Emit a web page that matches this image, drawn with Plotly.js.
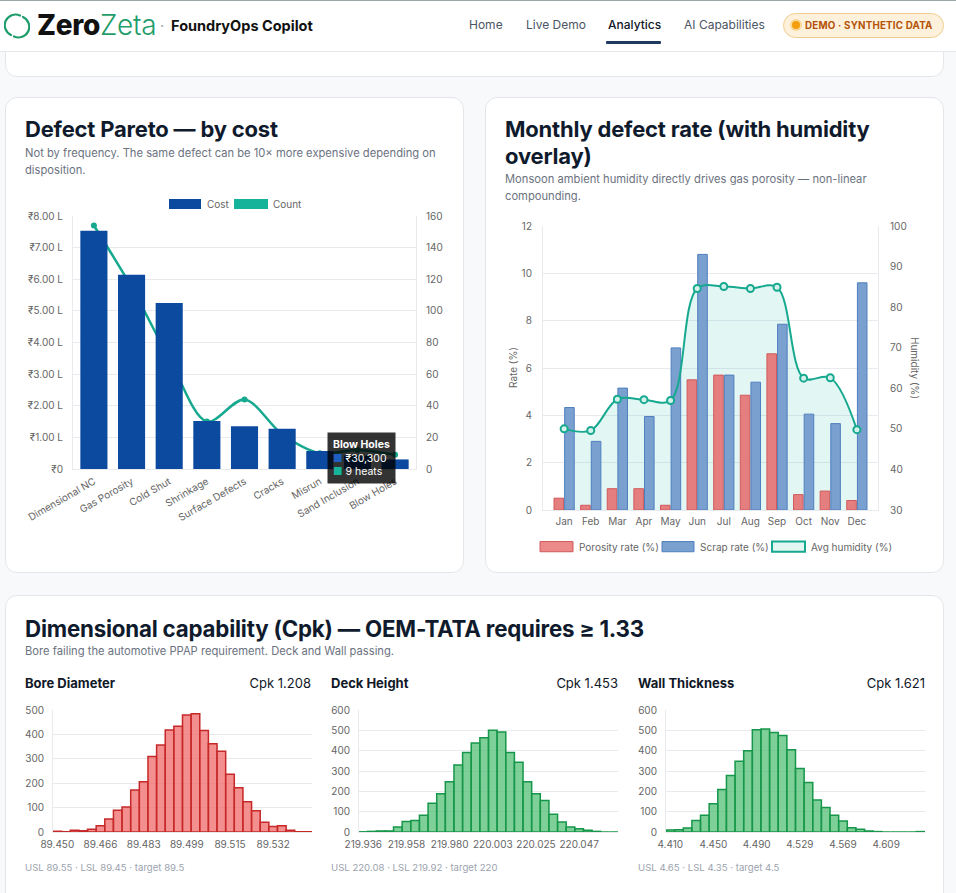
<!DOCTYPE html>
<html><head><meta charset="utf-8">
<script src="https://cdn.plot.ly/plotly-3.0.1.min.js"></script>
<style>
*{box-sizing:border-box;margin:0;padding:0}
body{width:956px;height:893px;overflow:hidden;background:#f8f9fa;font-family:Inter,"Noto Sans",sans-serif;position:relative;color:#0f172a}
.a{position:absolute;white-space:nowrap}
.card{position:absolute;background:#fff;border:1px solid #e3e6ea;border-radius:12px}
.h2{font-size:22px;font-weight:700;line-height:27px;color:#0f1b2d;letter-spacing:-0.2px}
.sub{font-size:11.2px;line-height:17px;color:#6b7280}
.nav{font-size:12px;color:#4b5563;top:17px;line-height:16px}
.colh{font-size:13px;line-height:16px;color:#111827;top:675px}
.foot{font-size:9.6px;line-height:12px;color:#9ca3af;top:862px}
</style></head>
<body>
<!-- scrolled card fragment -->
<div class="card" style="left:5px;top:-40px;width:939px;height:117px"></div>
<!-- header -->
<div class="a" style="left:0;top:0;width:956px;height:52px;background:#fff;border-top:1px solid #9aa6a8;border-bottom:1px solid #e6e8eb"></div>
<svg class="a" style="left:4px;top:12px" width="26" height="28" viewBox="0 0 26 28">
 <path d="M16 3.5 A10.5 10.5 0 0 0 7 23" stroke="#1f9d6b" stroke-width="2.2" fill="none" stroke-linecap="round"/>
 <path d="M10 24.5 A10.5 10.5 0 0 0 19 5" stroke="#1f9d6b" stroke-width="2.2" fill="none" stroke-linecap="round"/>
</svg>
<div class="a" style="left:37px;top:10px;font-size:28px;line-height:30px;letter-spacing:-0.3px"><span style="font-weight:800;color:#111">Zero</span><span style="font-weight:300;color:#1f9d6b">Zeta</span></div>
<div class="a" style="left:160px;top:17px;font-size:14.5px;line-height:17px;font-weight:700;color:#111"><span style="color:#9ca3af;font-weight:400">·</span>&nbsp; FoundryOps Copilot</div>
<div class="a nav" style="left:469px">Home</div>
<div class="a nav" style="left:526px">Live Demo</div>
<div class="a nav" style="left:608px;color:#111827;font-weight:500">Analytics</div>
<div class="a" style="left:606px;top:41px;width:55px;height:3px;background:#1e3a5f;border-radius:1px"></div>
<div class="a nav" style="left:684px">AI Capabilities</div>
<div class="a" style="left:783px;top:13px;width:161px;height:25px;border-radius:13px;background:#fdf1dc;border:1px solid #f1cd8e"></div>
<div class="a" style="left:792px;top:21px;width:8px;height:8px;border-radius:4px;background:#f59e0b;box-shadow:0 0 0 2px #fbd99a"></div>
<div class="a" style="left:805px;top:19.5px;font-size:9.8px;line-height:12px;font-weight:700;color:#b45309;letter-spacing:0.2px">DEMO · SYNTHETIC DATA</div>

<!-- cards -->
<div class="card" style="left:5px;top:97px;width:459px;height:476px"></div>
<div class="card" style="left:485px;top:97px;width:459px;height:476px"></div>
<div class="card" style="left:5px;top:595px;width:939px;height:330px"></div>

<div class="a h2" style="left:25px;top:115.5px">Defect Pareto — by cost</div>
<div class="a sub" style="left:25px;top:144.5px">Not by frequency. The same defect can be 10× more expensive depending on<br>disposition.</div>
<div class="a h2" style="left:505px;top:115.5px">Monthly defect rate (with humidity<br>overlay)</div>
<div class="a sub" style="left:505px;top:170.5px">Monsoon ambient humidity directly drives gas porosity — non-linear<br>compounding.</div>

<div class="a h2" style="left:25px;top:614.5px;font-size:22.3px">Dimensional capability (Cpk) — OEM-TATA requires ≥ 1.33</div>
<div class="a sub" style="left:25px;top:642.5px">Bore failing the automotive PPAP requirement. Deck and Wall passing.</div>

<div class="a colh" style="left:25px;font-weight:700">Bore Diameter</div>
<div class="a colh" style="left:211px;width:100px;text-align:right">Cpk 1.208</div>
<div class="a colh" style="left:331px;font-weight:700">Deck Height</div>
<div class="a colh" style="left:518px;width:100px;text-align:right">Cpk 1.453</div>
<div class="a colh" style="left:638px;font-weight:700">Wall Thickness</div>
<div class="a colh" style="left:825px;width:100px;text-align:right">Cpk 1.621</div>
<div class="a foot" style="left:25px">USL 89.55 · LSL 89.45 · target 89.5</div>
<div class="a foot" style="left:331px">USL 220.08 · LSL 219.92 · target 220</div>
<div class="a foot" style="left:638px">USL 4.65 · LSL 4.35 · target 4.5</div>

<div id="pareto" class="a" style="left:10px;top:190px;width:450px;height:355px"></div>
<div id="monthly" class="a" style="left:490px;top:210px;width:450px;height:350px"></div>
<div id="h1" class="a" style="left:13px;top:700px;width:304px;height:160px"></div>
<div id="h2" class="a" style="left:319px;top:700px;width:305px;height:160px"></div>
<div id="h3" class="a" style="left:626px;top:700px;width:304px;height:160px"></div>

<script>
// ---------- Pareto data ----------
const defectCategories = ['Dimensional NC','Gas Porosity','Cold Shut','Shrinkage','Surface Defects','Cracks','Misrun','Sand Inclusion','Blow Holes'];
const defectCostINR = [753000, 614000, 525000, 152000, 135000, 127000, 57000, 42000, 30300];
const defectCountHeats = [154, 115, 70, 30, 44, 22, 10, 12, 9];
const costTickVals = [0,100000,200000,300000,400000,500000,600000,700000,800000];
const costTickText = ['₹0','₹1.00 L','₹2.00 L','₹3.00 L','₹4.00 L','₹5.00 L','₹6.00 L','₹7.00 L','₹8.00 L'];

// ---------- Monthly data ----------
const months = ['Jan','Feb','Mar','Apr','May','Jun','Jul','Aug','Sep','Oct','Nov','Dec'];
const porosityRate = [0.5, 0.2, 0.9, 0.9, 0.2, 5.5, 5.7, 4.85, 6.6, 0.65, 0.8, 0.4];
const scrapRate = [4.33, 2.9, 5.15, 3.95, 6.85, 10.8, 5.7, 5.4, 7.85, 4.05, 3.65, 9.6];
const avgHumidity = [50, 49.6, 57.3, 57.2, 57, 84.6, 85.1, 84.6, 84.9, 62.5, 62.6, 49.8];

// ---------- Histogram data ----------
const boreBins = ['89.450','89.453','89.457','89.460','89.463','89.466','89.470','89.473','89.476','89.480','89.483','89.486','89.489','89.493','89.496','89.499','89.502','89.506','89.509','89.512','89.515','89.519','89.522','89.525','89.529','89.532','89.535','89.538','89.542','89.545'];
const boreCounts = [3,1,7,5,11,26,53,89,102,172,206,309,357,418,433,480,485,416,362,331,237,181,124,87,40,23,26,7,1,1];
const boreTicks = ['89.450','89.466','89.483','89.499','89.515','89.532'];

const deckBins = ['219.936','219.940','219.945','219.949','219.954','219.958','219.962','219.967','219.971','219.976','219.980','219.985','219.989','219.994','219.998','220.003','220.007','220.011','220.016','220.020','220.025','220.029','220.034','220.038','220.042','220.047','220.051','220.056','220.060','220.064'];
const deckCounts = [1,3,5,5,25,52,56,82,142,188,247,330,391,438,463,500,492,391,343,247,188,155,87,49,25,16,8,3,0,0];
const deckTicks = ['219.936','219.958','219.980','220.003','220.025','220.047'];

const wallBins = ['4.410','4.418','4.426','4.434','4.442','4.450','4.458','4.466','4.474','4.482','4.490','4.498','4.506','4.513','4.521','4.529','4.537','4.545','4.553','4.561','4.569','4.577','4.585','4.593','4.601','4.609','4.617','4.625','4.633','4.641'];
const wallCounts = [10,11,20,57,82,139,209,278,348,400,503,507,489,474,405,312,244,157,121,82,54,21,13,5,2,0,0,0,0,2];
const wallTicks = ['4.410','4.450','4.490','4.529','4.569','4.609'];

const FONT = {family:'Inter, "Noto Sans", sans-serif', size:10, color:'#666'};
const GRID = '#e8eaee';
const TEAL = '#17a98f';
const cfg = {staticPlot:true, displayModeBar:false};
const NOTICK = 'rgba(0,0,0,0)';

// ---------- Pareto ----------
(function(){
  const px = X => (X-73)/343, py = Y => (469-Y)/253;
  const traces = [
    {type:'scatter', x:defectCategories, y:defectCountHeats, yaxis:'y', mode:'lines+markers',
     line:{color:TEAL, width:2.5, shape:'spline', smoothing:0.9}, marker:{size:6, color:TEAL}, showlegend:false, hoverinfo:'skip'},
    {type:'bar', x:defectCategories, y:defectCostINR, yaxis:'y2', marker:{color:'#0c4aa0'}, showlegend:false, hoverinfo:'skip'}
  ];
  const layout = {
    width:450, height:355, margin:{l:63, r:44, t:26, b:76}, paper_bgcolor:'rgba(0,0,0,0)', plot_bgcolor:'rgba(0,0,0,0)',
    font:FONT, bargap:0.28, showlegend:false,
    xaxis:{type:'category', tickangle:-30, showgrid:false, showline:true, linecolor:GRID, ticks:'outside', ticklen:2, tickcolor:NOTICK, automargin:false, tickfont:FONT},
    yaxis:{side:'right', range:[0,160], tickvals:[0,20,40,60,80,100,120,140,160], showgrid:false, showline:true, linecolor:GRID, ticks:'outside', ticklen:7, tickcolor:NOTICK, zeroline:false, automargin:false, tickfont:FONT},
    yaxis2:{overlaying:'y', side:'left', range:[0,800000], tickvals:costTickVals, ticktext:costTickText, showgrid:true, gridcolor:GRID, showline:true, linecolor:GRID, ticks:'outside', ticklen:7, tickcolor:NOTICK, zeroline:false, automargin:false, tickfont:FONT},
    shapes:[
      {type:'rect', xref:'paper', yref:'paper', x0:px(169), x1:px(201), y0:py(209), y1:py(199), fillcolor:'#0c4aa0', line:{width:0}},
      {type:'rect', xref:'paper', yref:'paper', x0:px(234), x1:px(268), y0:py(209), y1:py(199), fillcolor:'#14b39a', line:{width:0}}
    ],
    annotations:[
      {xref:'paper', yref:'paper', x:px(205), y:py(204), xanchor:'left', yanchor:'middle', text:'Cost', showarrow:false, font:FONT},
      {xref:'paper', yref:'paper', x:px(271), y:py(204), xanchor:'left', yanchor:'middle', text:'Count', showarrow:false, font:FONT},
      {xref:'paper', yref:'paper', x:px(361), y:py(458), xanchor:'center', yanchor:'middle', align:'left', showarrow:false,
       text:'<b>Blow Holes</b><br><span style="color:#1d5fc0">■</span> ₹30,300<br><span style="color:#14b39a">■</span> 9 heats',
       bgcolor:'rgba(0,0,0,0.8)', borderpad:5, font:{family:FONT.family, size:10.5, color:'#fff'}}
    ]
  };
  Plotly.newPlot('pareto', traces, layout, cfg);
})();

// ---------- Monthly ----------
(function(){
  const px = X => (X-543)/335, py = Y => (505-Y)/279;
  const traces = [
    {type:'scatter', x:months, y:avgHumidity, yaxis:'y', mode:'lines', line:{color:'rgba(0,0,0,0)', width:0, shape:'spline', smoothing:1},
     fill:'tozeroy', fillcolor:'rgba(20,184,166,0.12)', showlegend:false, hoverinfo:'skip'},
    {type:'bar', x:months, y:porosityRate, yaxis:'y2', name:'Porosity rate (%)', marker:{color:'#e57f7f', line:{color:'#d05a5a', width:1}}, hoverinfo:'skip'},
    {type:'bar', x:months, y:scrapRate, yaxis:'y2', name:'Scrap rate (%)', marker:{color:'#7aa0cf', line:{color:'#4f7fbf', width:1}}, hoverinfo:'skip'},
    {type:'scatter', x:months, y:avgHumidity, yaxis:'y3', mode:'lines+markers', line:{color:TEAL, width:2, shape:'spline', smoothing:1},
     marker:{size:7, color:'#d5f1ec', line:{color:TEAL, width:2}}, showlegend:false, hoverinfo:'skip'}
  ];
  const layout = {
    width:450, height:350, margin:{l:53, r:62, t:16, b:50}, paper_bgcolor:'rgba(0,0,0,0)', plot_bgcolor:'rgba(0,0,0,0)',
    font:FONT, barmode:'group', bargap:0.2, bargroupgap:0.1, showlegend:false,
    xaxis:{type:'category', showgrid:false, showline:true, linecolor:GRID, ticks:'outside', ticklen:2, tickcolor:NOTICK, automargin:false, tickfont:FONT},
    yaxis:{side:'right', range:[30,100], dtick:10, showgrid:false, showline:true, linecolor:GRID, ticks:'outside', ticklen:9, tickcolor:NOTICK, zeroline:false, automargin:false, tickfont:FONT},
    yaxis2:{overlaying:'y', side:'left', range:[0,12], dtick:2, showgrid:true, gridcolor:GRID, showline:true, linecolor:GRID, ticks:'outside', ticklen:8, tickcolor:NOTICK, zeroline:false, automargin:false, tickfont:FONT},
    yaxis3:{overlaying:'y', range:[30,100], visible:false},
    shapes:[
      {type:'rect', xref:'paper', yref:'paper', x0:px(540), x1:px(573), y0:py(546), y1:py(536), fillcolor:'#ec8a8a', line:{color:'#d05a5a', width:1}},
      {type:'rect', xref:'paper', yref:'paper', x0:px(662), x1:px(694), y0:py(546), y1:py(536), fillcolor:'#7aa0cf', line:{color:'#4f7fbf', width:1}},
      {type:'rect', xref:'paper', yref:'paper', x0:px(772), x1:px(805), y0:py(546), y1:py(536), fillcolor:'#e2f6f2', line:{color:TEAL, width:2}}
    ],
    annotations:[
      {xref:'paper', yref:'paper', x:px(577), y:py(541), xanchor:'left', yanchor:'middle', text:'Porosity rate (%)', showarrow:false, font:FONT},
      {xref:'paper', yref:'paper', x:px(698), y:py(541), xanchor:'left', yanchor:'middle', text:'Scrap rate (%)', showarrow:false, font:FONT},
      {xref:'paper', yref:'paper', x:px(809), y:py(541), xanchor:'left', yanchor:'middle', text:'Avg humidity (%)', showarrow:false, font:FONT},
      {xref:'paper', yref:'paper', x:px(513), y:0.5, xanchor:'center', yanchor:'middle', text:'Rate (%)', textangle:-90, showarrow:false, font:{family:FONT.family, size:10, color:'#666'}},
      {xref:'paper', yref:'paper', x:px(915), y:0.5, xanchor:'center', yanchor:'middle', text:'Humidity (%)', textangle:90, showarrow:false, font:{family:FONT.family, size:10, color:'#666'}}
    ]
  };
  Plotly.newPlot('monthly', traces, layout, cfg);
})();

// ---------- Histograms ----------
function hist(id, bins, counts, ticks, ymax, fill, border, w, r){
  const traces = [{type:'bar', x:bins, y:counts, marker:{color:fill, line:{color:border, width:1.5}}, hoverinfo:'skip', showlegend:false}];
  const layout = {
    width:w, height:160, margin:{l:40, r:r, t:10, b:28}, paper_bgcolor:'rgba(0,0,0,0)', plot_bgcolor:'rgba(0,0,0,0)',
    font:FONT, bargap:0,
    xaxis:{type:'category', range:[-0.5, bins.length-0.5], tickmode:'array', tickvals:ticks, ticktext:ticks, tickangle:0, showgrid:false, showline:true, linecolor:GRID, ticks:'outside', ticklen:3, tickcolor:NOTICK, automargin:false, tickfont:FONT},
    yaxis:{range:[0,ymax], dtick:100, showgrid:true, gridcolor:GRID, showline:true, linecolor:GRID, zeroline:false, ticks:'outside', ticklen:6, tickcolor:NOTICK, automargin:false, tickfont:FONT}
  };
  Plotly.newPlot(id, traces, layout, cfg);
}
hist('h1', boreBins, boreCounts, boreTicks, 500, 'rgba(239,100,100,0.72)', '#c62828', 304, 5);
hist('h2', deckBins, deckCounts, deckTicks, 600, 'rgba(72,187,110,0.7)', '#16964a', 305, 6);
hist('h3', wallBins, wallCounts, wallTicks, 600, 'rgba(72,187,110,0.7)', '#16964a', 304, 5);
</script>
</body></html>
